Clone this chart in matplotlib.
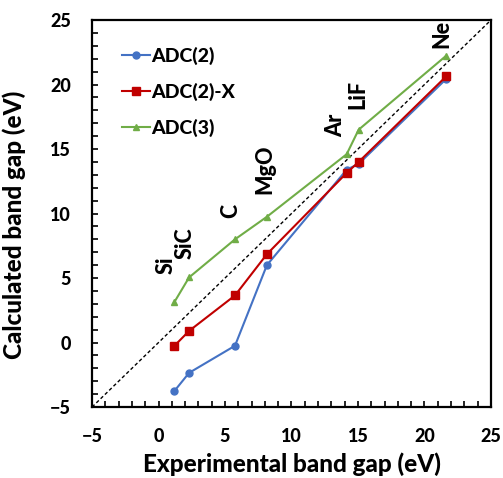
import matplotlib
matplotlib.use("Agg")
import matplotlib.pyplot as plt
from matplotlib.ticker import MultipleLocator

plt.rcParams["font.family"] = ["Lato", "DejaVu Sans"]
plt.rcParams["font.weight"] = "black"
W = "black"

materials = ["Si", "SiC", "C", "MgO", "Ar", "LiF", "Ne"]
exp_gap = [1.2, 2.3, 5.75, 8.15, 14.15, 15.05, 21.65]
adc2 = [-3.75, -2.35, -0.25, 6.0, 13.4, 13.85, 20.45]
adc2x = [-0.25, 0.9, 3.65, 6.85, 13.15, 14.0, 20.65]
adc3 = [3.15, 5.05, 8.0, 9.75, 14.6, 16.5, 22.25]
label_x = [0.6, 2.0, 5.4, 8.0, 13.3, 15.0, 21.3]
label_y = [6.0, 7.7, 10.2, 13.4, 16.8, 19.2, 23.9]

fig = plt.figure(figsize=(5.03, 4.78), dpi=100)
ax = fig.add_axes([0.183, 0.1485, 0.793, 0.8095])

ax.plot([-5, 25], [-5, 25], linestyle=(0, (2.5, 1.8)), color="black", lw=1.0, zorder=1)
ax.plot(exp_gap, adc2, color="#4472C4", marker="o", ms=5, lw=1.5, label="ADC(2)", zorder=3)
ax.plot(exp_gap, adc2x, color="#C00000", marker="s", ms=5.5, lw=1.5, label="ADC(2)-X", zorder=4)
ax.plot(exp_gap, adc3, color="#70AD47", marker="^", ms=5, lw=1.5, label="ADC(3)", zorder=2)

for name, lx, ly in zip(materials, label_x, label_y):
    ax.text(lx, ly, name, rotation=90, ha="center", va="center",
            fontsize=15.5, fontweight=W)

ax.set_xlim(-5, 25)
ax.set_ylim(-5, 25)
ax.xaxis.set_major_locator(MultipleLocator(5))
ax.yaxis.set_major_locator(MultipleLocator(5))
ax.xaxis.set_minor_locator(MultipleLocator(1))
ax.yaxis.set_minor_locator(MultipleLocator(1))
ax.tick_params(which="both", direction="in", length=4, width=1.2, labelsize=13)
ax.tick_params(axis="x", which="major", pad=15)
ax.tick_params(axis="y", which="major", pad=15)
for s in ax.spines.values():
    s.set_linewidth(1.6)

ax.set_xlabel("Experimental band gap (eV)", fontsize=17.5, fontweight=W)
ax.xaxis.set_label_coords(0.5, -0.118)
ax.set_ylabel("Calculated band gap (eV)", fontsize=17.5, fontweight=W)
ax.yaxis.set_label_coords(-0.165, 0.47)

leg = ax.legend(loc="upper left", bbox_to_anchor=(0.03, 0.975), frameon=False,
                prop={"size": 14, "weight": W},
                handlelength=1.45, handletextpad=0.1, labelspacing=0.9)

fig.savefig("out.png", dpi=100)
